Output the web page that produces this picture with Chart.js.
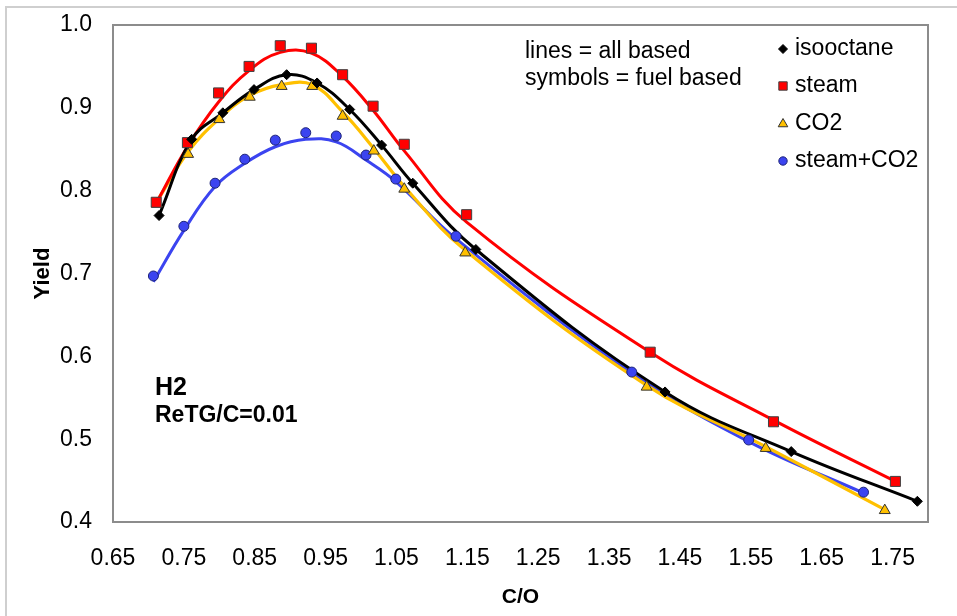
<!DOCTYPE html>
<html>
<head>
<meta charset="utf-8">
<script src="https://cdn.jsdelivr.net/npm/chart.js@4.4.1/dist/chart.umd.min.js"></script>
<style>
  html, body { margin: 0; padding: 0; background: #fff; }
  #wrap { position: relative; width: 957px; height: 616px; overflow: hidden; }
  #frame { position: absolute; left: 5px; top: 6px; width: 980px; height: 640px;
           border: 2px solid #cfcfcf; box-sizing: border-box; pointer-events: none; }
</style>
</head>
<body>
<div id="wrap">
  <canvas id="chartH2" width="957" height="616"></canvas>
  <div id="frame"></div>
</div>
<script>
// tick labels
const xTicks = [0.65, 0.75, 0.85, 0.95, 1.05, 1.15, 1.25, 1.35, 1.45, 1.55, 1.65, 1.75];
const yTicks = [0.4, 0.5, 0.6, 0.7, 0.8, 0.9, 1.0];

// symbols = fuel based
const isoX   = [0.715, 0.761, 0.805, 0.849, 0.895, 0.938, 0.984, 1.029, 1.073, 1.162, 1.429, 1.607, 1.785];
const isoY   = [0.770, 0.862, 0.894, 0.922, 0.940, 0.930, 0.898, 0.855, 0.809, 0.729, 0.557, 0.485, 0.425];
const steamX = [0.711, 0.755, 0.799, 0.842, 0.886, 0.930, 0.974, 1.017, 1.061, 1.149, 1.408, 1.582, 1.754];
const steamY = [0.786, 0.858, 0.918, 0.950, 0.975, 0.972, 0.940, 0.902, 0.856, 0.771, 0.605, 0.521, 0.449];
const co2X   = [0.712, 0.756, 0.800, 0.843, 0.888, 0.931, 0.974, 1.018, 1.061, 1.147, 1.403, 1.571, 1.739];
const co2Y   = [0.784, 0.844, 0.886, 0.913, 0.926, 0.926, 0.890, 0.848, 0.802, 0.725, 0.563, 0.489, 0.414];
const mixX   = [0.707, 0.750, 0.794, 0.836, 0.879, 0.922, 0.965, 1.007, 1.049, 1.134, 1.382, 1.547, 1.709];
const mixY   = [0.697, 0.757, 0.809, 0.838, 0.861, 0.870, 0.866, 0.843, 0.814, 0.745, 0.581, 0.499, 0.436];

// lines = all based
const isoLineY   = [0.770, 0.862, 0.894, 0.922, 0.940, 0.930, 0.898, 0.855, 0.809, 0.729, 0.557, 0.485, 0.425];
const steamLineY = [0.785, 0.853, 0.907, 0.945, 0.967, 0.966, 0.938, 0.897, 0.848, 0.762, 0.605, 0.523, 0.449];
const co2LineY   = [0.787, 0.847, 0.887, 0.915, 0.928, 0.928, 0.895, 0.851, 0.805, 0.728, 0.565, 0.491, 0.415];
const mixLineY   = [0.690, 0.752, 0.805, 0.833, 0.853, 0.862, 0.859, 0.837, 0.811, 0.742, 0.580, 0.497, 0.435];

const seriesNames = ['isooctane', 'steam', 'CO2', 'steam+CO2'];

const FONT = '"Liberation Sans", Arial, sans-serif';
const RED = '#FF0000', BLACK = '#000000', GOLD = '#FFC000', BLUE = '#3B44F0';

const pts = (xs, ys) => xs.map((x, i) => ({x: x, y: ys[i]}));

function lineSet(xs, ys, color, w) {
  return {data: pts(xs, ys), showLine: true, borderColor: color, borderWidth: w,
    pointRadius: 0, tension: 0.4, fill: false, order: 2};
}
function markSet(xs, ys, style, r, bg, border) {
  return {data: pts(xs, ys), showLine: false, pointStyle: style, pointRadius: r,
    pointBackgroundColor: bg, pointBorderColor: border, pointBorderWidth: 1, order: 1};
}

// small marker drawer for the legend
function drawMark(ctx, style, x, y, r, bg, border) {
  ctx.save();
  ctx.fillStyle = bg; ctx.strokeStyle = border; ctx.lineWidth = 1;
  ctx.beginPath();
  if (style === 'rectRot') {
    ctx.moveTo(x - r, y); ctx.lineTo(x, y - r); ctx.lineTo(x + r, y); ctx.lineTo(x, y + r); ctx.closePath();
  } else if (style === 'rect') {
    ctx.rect(x - r, y - r, 2 * r, 2 * r);
  } else if (style === 'triangle') {
    ctx.moveTo(x, y - r); ctx.lineTo(x + r * 0.87, y + r * 0.5); ctx.lineTo(x - r * 0.87, y + r * 0.5); ctx.closePath();
  } else {
    ctx.arc(x, y, r, 0, Math.PI * 2);
  }
  ctx.fill(); ctx.stroke();
  ctx.restore();
}

const extras = {
  id: 'extras',
  afterDatasetsDraw(chart) {
    const ctx = chart.ctx, a = chart.chartArea;
    ctx.save();
    // plot area frame
    ctx.strokeStyle = '#8c8c8c'; ctx.lineWidth = 2;
    ctx.strokeRect(a.left, a.top, a.right - a.left, a.bottom - a.top);

    ctx.fillStyle = '#000'; ctx.textBaseline = 'middle'; ctx.textAlign = 'left';
    ctx.font = '23px ' + FONT;
    ctx.fillText('lines = all based', 525, 52);
    ctx.fillText('symbols = fuel based', 525, 79);

    ctx.font = 'bold 25px ' + FONT;
    ctx.fillText('H2', 155, 388);
    ctx.font = 'bold 23px ' + FONT;
    ctx.fillText('ReTG/C=0.01', 155, 416);

    // legend
    const marks = [
      ['rectRot', 4.5, BLACK, BLACK],
      ['rect', 4.2, RED, '#404040'],
      ['triangle', 5.5, GOLD, '#333'],
      ['circle', 4.2, BLUE, '#1e2478']
    ];
    const rows = [49, 86, 124, 161];
    ctx.font = '23px ' + FONT;
    seriesNames.forEach((name, i) => {
      const m = marks[i];
      drawMark(ctx, m[0], 783, rows[i], m[1], m[2], m[3]);
      ctx.fillStyle = '#000';
      ctx.fillText(name, 795, rows[i]);
    });
    ctx.restore();
  }
};

new Chart(document.getElementById('chartH2'), {
  type: 'scatter',
  data: {
    datasets: [
      markSet(isoX, isoY, 'rectRot', 5, BLACK, BLACK),
      markSet(steamX, steamY, 'rect', 7.1, RED, '#404040'),
      markSet(co2X, co2Y, 'triangle', 6.3, GOLD, '#333'),
      markSet(mixX, mixY, 'circle', 5, BLUE, '#1e2478'),
      lineSet(isoX, isoLineY, BLACK, 3),
      lineSet(steamX, steamLineY, RED, 3),
      lineSet(co2X, co2LineY, GOLD, 3.2),
      lineSet(mixX, mixLineY, BLUE, 3)
    ]
  },
  options: {
    responsive: false,
    animation: false,
    layout: {padding: {left: 0, top: 25, right: 29, bottom: 0}},
    plugins: {legend: {display: false}, tooltip: {enabled: false}},
    scales: {
      x: {
        type: 'linear', min: 0.65, max: 1.8,
        afterBuildTicks: s => { s.ticks = xTicks.map(v => ({value: v})); },
        afterFit: s => { s.height = 94; s.paddingLeft = 0; s.paddingRight = 0; },
        ticks: {callback: v => v.toFixed(2), padding: 23, color: '#000', autoSkip: false, maxRotation: 0,
          font: {family: FONT, size: 23}},
        grid: {display: false, drawTicks: false},
        border: {display: false},
        title: {display: true, text: 'C/O', color: '#000', padding: {top: 0, bottom: 6},
          font: {family: FONT, size: 21, weight: 'bold'}}
      },
      y: {
        min: 0.4, max: 1.0,
        afterBuildTicks: s => { s.ticks = yTicks.map(v => ({value: v})); },
        afterFit: s => { s.width = 113; s.paddingTop = 0; s.paddingBottom = 0; },
        ticks: {callback: v => v.toFixed(1), padding: 21, color: '#000',
          font: {family: FONT, size: 23}},
        grid: {display: false, drawTicks: false},
        border: {display: false},
        title: {display: true, text: 'Yield', color: '#000', padding: {top: 30, bottom: 0},
          font: {family: FONT, size: 22, weight: 'bold'}}
      }
    }
  },
  plugins: [extras]
});
</script>
</body>
</html>
